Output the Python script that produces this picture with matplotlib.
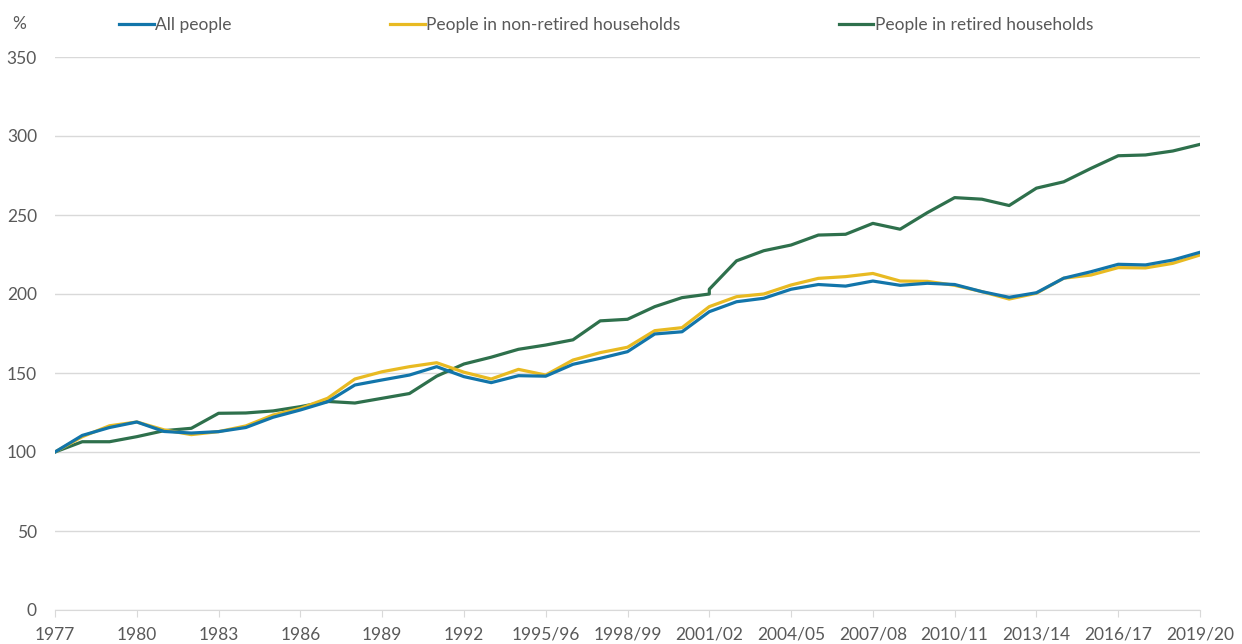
import matplotlib
matplotlib.use("Agg")
import matplotlib.pyplot as plt
import numpy as np

# periods on the x axis: calendar years to 1993, financial years after
periods = ([str(y) for y in range(1977, 1994)] +
           ["%d/%02d" % (y, (y + 1) % 100) for y in range(1994, 2020)])

all_people = [100, 110.5, 115.5, 119, 113, 112, 112.9, 115.5, 122, 126.6,
              131.8, 142.4, 145.6, 148.7, 154, 147.7, 143.9, 148.3, 148, 155.5,
              159.3, 163.5, 174.7, 176.1, 188.8, 195.1, 197.3, 203, 206, 205,
              208.2, 205.5, 206.8, 206, 201.5, 197.9, 200.8, 210, 214.1, 218.8,
              218.4, 221.5, 226.4]

non_retired = [100, 109.7, 116.6, 119, 114, 111, 112.9, 116.5, 123.4, 127.6,
               134, 146.2, 150.8, 154, 156.5, 150.5, 146.2, 152.3, 148.7, 158.2,
               162.9, 166.3, 176.8, 178.7, 192, 198.3, 200, 205.7, 209.9, 211,
               213, 208.2, 208, 205.5, 201.5, 196.8, 200.5, 210, 212, 216.7,
               216.5, 219.4, 224.7]

# retired households series has a break at 2001/02 (two values there)
retired_old = [100, 106.5, 106.5, 109.7, 113.5, 115, 124.5, 124.7, 126, 128.7,
               132, 131, 134, 137, 148, 155.7, 160, 165, 167.7, 171,
               183, 184, 192, 197.7, 200]
retired_new = [203, 221, 227.4, 231, 237.3, 237.8, 244.7, 241, 251.5, 261,
               260, 256, 267, 271, 279.5, 287.5, 288, 290.5, 294.7]

labels = ["All people", "People in non-retired households",
          "People in retired households"]
colors = ["#1275AA", "#E8BA22", "#2E704C"]

plt.rcParams['font.family'] = ['Lato', 'DejaVu Sans']
txt = "#595959"
grid = "#D9D9D9"
fs = 12.5

fig = plt.figure(figsize=(12.42, 6.44), dpi=100)
ax = fig.add_axes([55 / 1242, 1 - 610 / 644, 1145 / 1242, 553 / 644])

x = np.arange(len(periods))
x_ret = np.concatenate([x[:len(retired_old)], x[len(retired_old) - 1:]])
y_ret = retired_old + retired_new

ax.plot(x_ret, y_ret, color=colors[2], lw=2.3, label=labels[2], zorder=3)
ax.plot(x, non_retired, color=colors[1], lw=2.3, label=labels[1], zorder=4)
ax.plot(x, all_people, color=colors[0], lw=2.3, label=labels[0], zorder=5)

ax.set_xlim(0, len(periods) - 1)
ax.set_ylim(0, 350)
ax.set_yticks(range(0, 351, 50))
ax.set_xticks(x[::3])
ax.set_xticklabels(periods[::3])
ax.yaxis.grid(True, color=grid, lw=1)
ax.set_axisbelow(True)
for s in ["top", "right", "left"]:
    ax.spines[s].set_visible(False)
ax.spines["bottom"].set_color(grid)
ax.tick_params(axis="y", length=0, pad=13, labelsize=fs, labelcolor=txt)
ax.tick_params(axis="x", length=5, color=grid, pad=7, labelsize=fs,
               labelcolor=txt)

fig.text(12 / 1242, 1 - 24 / 644, "%", color=txt, fontsize=fs, va="center")

h, l = ax.get_legend_handles_labels()
order = [2, 1, 0]
leg = fig.legend([h[i] for i in order], [l[i] for i in order], ncol=3,
                 loc="center left", bbox_to_anchor=(119 / 1242, 1 - 25 / 644),
                 frameon=False, fontsize=fs, handlelength=2.0,
                 handletextpad=0.1, columnspacing=9.1, borderaxespad=0,
                 borderpad=0)
for t in leg.get_texts():
    t.set_color(txt)

fig.savefig("out.png", dpi=100)
